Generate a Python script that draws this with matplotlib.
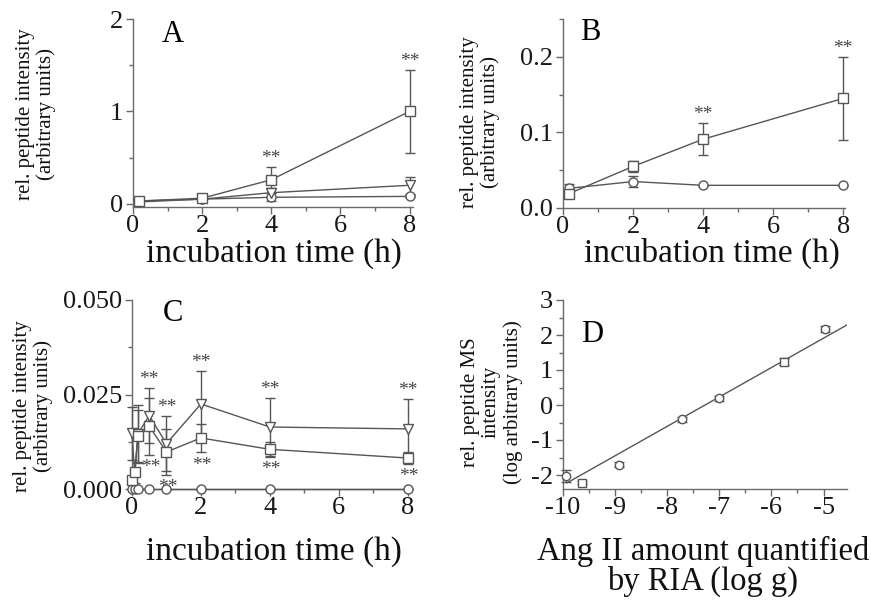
import numpy as np
import matplotlib
matplotlib.use("Agg")
import matplotlib.pyplot as plt
from matplotlib.ticker import MultipleLocator, FormatStrFormatter

plt.rcParams["font.family"] = ["Liberation Serif", "DejaVu Serif"]
plt.rcParams["axes.unicode_minus"] = False

# panel A
t_ab = [0.17, 2, 4, 8]
a_sq = [0.03, 0.06, 0.26, 1.0]
a_sq_err = [0.02, 0.02, 0.14, 0.45]
a_tri = [0.02, 0.05, 0.12, 0.20]
a_tri_err = [0.01, 0.01, 0.05, 0.09]
a_circ = [0.03, 0.05, 0.07, 0.08]
a_circ_err = [0.01, 0.01, 0.045, 0.01]
a_stars = [4, 8]

# panel B
b_sq = [0.019, 0.055, 0.091, 0.145]
b_sq_err = [0.004, 0.007, 0.021, 0.055]
b_circ = [0.026, 0.035, 0.030, 0.030]
b_circ_err = [0.006, 0.007, 0.001, 0.001]
b_stars = [4, 8]

# panel C
t_c = [0, 0.08, 0.17, 0.5, 1, 2, 4, 8]
c_tri = [0.0148, 0.0035, 0.0146, 0.0194, 0.0120, 0.0225, 0.0164, 0.0159]
c_tri_err = [0.007, 0.002, 0.0075, 0.0072, 0.0072, 0.0088, 0.0078, 0.0078]
c_sq = [0.0024, 0.0046, 0.0140, 0.0166, 0.0098, 0.0135, 0.0105, 0.0082]
c_sq_err = [0.001, 0.001, 0.007, 0.0075, 0.006, 0.0038, 0.002, 0.0015]
c_circ = [0, 0, 0, 0, 0, 0, 0, 0]
c_stars = [0.5, 1, 2, 4, 8]

# panel D
d_circ_x = [-9.94, -8.93, -7.71, -7.01, -4.98]
d_circ_y = [-2.03, -1.70, -0.41, 0.19, 2.17]
d_circ_err = [0.17, 0.07, 0.08, 0.07, 0.08]
d_sq_x = [-9.63, -5.76]
d_sq_y = [-2.22, 1.24]
d_sq_err = [0.05, 0.09]
fit_slope = 0.84
fit_icpt = 6.11
fit_range = [-9.92, -4.55]

W, H = 871, 601
GRAY = "#555555"
SPINE = "#6a6a6a"


def box(l, t, r, b):
    return [l / W, 1 - b / H, (r - l) / W, (b - t) / H]


def style(ax):
    for s in ["top", "right"]:
        ax.spines[s].set_visible(False)
    for s in ["left", "bottom"]:
        ax.spines[s].set_color(SPINE)
        ax.spines[s].set_linewidth(1.0)
    ax.tick_params(which="major", direction="out", length=5, width=1,
                   color=SPINE, labelsize=19, labelcolor="#181818")
    ax.tick_params(axis="x", which="major", pad=1)
    ax.tick_params(axis="y", which="major", pad=2)
    ax.tick_params(which="minor", direction="out", length=3, width=1,
                   color=SPINE)


def series(ax, x, y, err, marker, ms=7, ls="-"):
    ax.errorbar(x, y, yerr=err, color=GRAY, lw=1, ls=ls, marker=marker,
                ms=ms, mfc="white", mec=GRAY, mew=1, capsize=3.5,
                elinewidth=1, capthick=1, clip_on=False, zorder=3)


def stars(ax, xs, x, y, err, below=False):
    for xi, yi, ei in zip(x, y, err):
        if xi not in xs:
            continue
        if below:
            ax.annotate("**", (xi, yi - ei), xytext=(1, -3),
                        textcoords="offset points", ha="center", va="top",
                        fontsize=14, color="#444444")
        else:
            ax.annotate("**", (xi, yi + ei), xytext=(0, 0),
                        textcoords="offset points", ha="center",
                        va="bottom", fontsize=14, color="#444444")


def label(x, y, s, size, **kw):
    fig.text(x / W, 1 - y / H, s, fontsize=size, ha="center", va="center",
             color="#111111", **kw)


fig = plt.figure(figsize=(W / 100, H / 100), dpi=100)

ylab = "rel. peptide intensity\n(arbitrary units)"
xlab = "incubation time (h)"

# A
ax = fig.add_axes(box(133, 19, 413, 207))
style(ax)
series(ax, t_ab, a_circ, a_circ_err, "o", 6.5)
series(ax, t_ab, a_tri, a_tri_err, "v", 6.5)
series(ax, t_ab, a_sq, a_sq_err, "s", 7)
stars(ax, a_stars, t_ab, a_sq, a_sq_err)
ax.set_xlim(0, 8.1)
ax.set_ylim(-0.035, 2)
ax.xaxis.set_major_locator(MultipleLocator(2))
ax.xaxis.set_minor_locator(MultipleLocator(1))
ax.yaxis.set_major_locator(MultipleLocator(1))
ax.yaxis.set_minor_locator(MultipleLocator(0.5))
ax.text(0.143, 0.915, "A", transform=ax.transAxes, fontsize=22,
        ha="center", va="center")
label(36, 114, ylab, 15, rotation=90, linespacing=1.05)
label(274, 253, xlab, 24)

# B
ax = fig.add_axes(box(563, 19, 845, 208))
style(ax)
series(ax, t_ab, b_circ, b_circ_err, "o", 6.5)
series(ax, t_ab, b_sq, b_sq_err, "s", 7)
stars(ax, b_stars, t_ab, b_sq, b_sq_err)
ax.set_xlim(0, 8.05)
ax.set_ylim(0, 0.25)
ax.xaxis.set_major_locator(MultipleLocator(2))
ax.xaxis.set_minor_locator(MultipleLocator(1))
ax.yaxis.set_major_locator(MultipleLocator(0.1))
ax.yaxis.set_minor_locator(MultipleLocator(0.05))
ax.yaxis.set_major_formatter(FormatStrFormatter("%.1f"))
ax.text(0.096, 0.926, "B", transform=ax.transAxes, fontsize=22,
        ha="center", va="center")
label(480, 122, ylab, 15, rotation=90, linespacing=1.05)
label(712, 253, xlab, 24)

# C
ax = fig.add_axes(box(132, 300, 411, 489))
style(ax)
series(ax, t_c, c_circ, c_circ, "o", 6.5)
series(ax, t_c, c_tri, c_tri_err, "v", 6.5)
series(ax, t_c, c_sq, c_sq_err, "s", 7)
stars(ax, c_stars, t_c, c_tri, c_tri_err)
stars(ax, c_stars, t_c, c_sq, c_sq_err, below=True)
ax.set_xlim(0, 8.1)
ax.set_ylim(0, 0.05)
ax.xaxis.set_major_locator(MultipleLocator(2))
ax.xaxis.set_minor_locator(MultipleLocator(1))
ax.yaxis.set_major_locator(MultipleLocator(0.025))
ax.yaxis.set_minor_locator(MultipleLocator(0.0125))
ax.yaxis.set_major_formatter(FormatStrFormatter("%.3f"))
ax.text(0.147, 0.93, "C", transform=ax.transAxes, fontsize=22,
        ha="center", va="center")
label(33, 406, ylab, 15, rotation=90, linespacing=1.05)
label(274, 551, xlab, 24)

# D
ax = fig.add_axes(box(563, 300, 847, 489))
style(ax)
fx = np.array(fit_range)
ax.plot(fx, fit_slope * fx + fit_icpt, color=GRAY, lw=1, zorder=2)
series(ax, d_circ_x, d_circ_y, d_circ_err, "o", 6, ls="none")
series(ax, d_sq_x, d_sq_y, d_sq_err, "s", 6, ls="none")
ax.set_xlim(-10, -4.55)
ax.set_ylim(-2.4, 3)
ax.xaxis.set_major_locator(MultipleLocator(1))
ax.xaxis.set_minor_locator(MultipleLocator(0.5))
ax.yaxis.set_major_locator(MultipleLocator(1))
ax.yaxis.set_minor_locator(MultipleLocator(0.5))
ax.text(0.102, 0.815, "D", transform=ax.transAxes, fontsize=22,
        ha="center", va="center")
label(492, 402, "rel. peptide MS\nintensity\n(log arbitrary units)", 15,
      rotation=90, linespacing=1.15)
label(703, 566, "Ang II amount quantified\nby RIA (log g)", 23.5,
      linespacing=0.95)

fig.savefig("out.png", dpi=100)
